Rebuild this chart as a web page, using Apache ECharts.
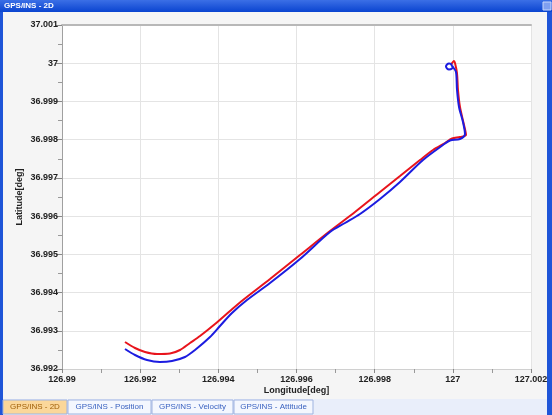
<!DOCTYPE html>
<html><head><meta charset="utf-8">
<script src="https://cdn.jsdelivr.net/npm/echarts@6/dist/echarts.min.js"></script>
<style>html,body{margin:0;padding:0;background:#f5f5f5}#c{width:552px;height:415px}</style>
</head><body><div id="c"></div>
<script>
var windowTitle = 'GPS/INS - 2D';
var tabLabels = ['GPS/INS - 2D', 'GPS/INS - Position', 'GPS/INS - Velocity', 'GPS/INS - Attitude'];
var xName = 'Longitude[deg]';
var yName = 'Latitude[deg]';
var xMin = 126.99, xMax = 127.002, xStep = 0.002;
var yMin = 36.992, yMax = 37.001, yStep = 0.001;

// GPS track (red)
var gpsLon = [126.991612,126.991868,126.992124,126.992431,126.992763,126.993019,126.993275,126.993531,126.993915,126.994298,126.994631,126.995322,126.996089,126.996857,126.997497,126.998136,126.998648,126.999160,126.999492,126.999799,126.999979,127.000183,127.000337,127.000286,127.000183,127.000132,127.000106,127.000055,127.000030,126.999953];
var gpsLat = [36.992706,36.992549,36.992445,36.992392,36.992405,36.992497,36.992680,36.992863,36.993177,36.993517,36.993805,36.994355,36.994982,36.995610,36.996107,36.996631,36.997049,36.997468,36.997730,36.997913,36.998030,36.998070,36.998122,36.998384,36.998855,36.999299,36.999744,37.000006,37.000058,36.999953];
// INS track (blue)
var insLon = [126.991612,126.991868,126.992175,126.992507,126.992814,126.993147,126.993403,126.993787,126.994042,126.994349,126.994733,126.995322,126.996089,126.996857,126.997241,126.997625,126.998136,126.998648,126.999237,126.999748,126.999927,127.000183,127.000311,127.000260,127.000158,127.000107,127.000081,127.000004,126.999979,126.999953,126.999902,126.999851,126.999825,126.999851,126.999902,126.999979,127.000004];
var insLat = [36.992523,36.992366,36.992235,36.992183,36.992209,36.992314,36.992497,36.992837,36.993125,36.993465,36.993805,36.994250,36.994878,36.995584,36.995820,36.996055,36.996448,36.996893,36.997468,36.997860,36.997978,36.998017,36.998148,36.998462,36.998855,36.999299,36.999770,36.999901,36.999927,36.999980,36.999993,36.999967,36.999914,36.999862,36.999836,36.999862,36.999927];

function pairs(a,b){var r=[];for(var i=0;i<a.length;i++)r.push([a[i],b[i]]);return r;}
function fmt(v){return String(+v.toFixed(3));}

var chart = echarts.init(document.getElementById('c'));
var lblFont = {color:'#222', fontSize:9, fontWeight:'bold', fontFamily:'Liberation Sans'};
var tabX = [3,68,152,234], tabW = [64,83,81,79];
var graphics = [
  {type:'rect', shape:{x:0,y:0,width:552,height:12}, style:{fill:new echarts.graphic.LinearGradient(0,0,0,1,[{offset:0,color:'#3b6fe6'},{offset:1,color:'#0a44d0'}])}, z:-1},
  {type:'text', x:4, y:6, style:{text:windowTitle, fill:'#ffffff', font:'bold 8px "Liberation Sans"', verticalAlign:'middle'}},
  {type:'rect', shape:{x:543,y:2,width:8,height:8}, style:{fill:'#7f9ff0', stroke:'#c8d6fa', lineWidth:1}},
  {type:'rect', shape:{x:0,y:12,width:3,height:403}, style:{fill:'#1f55d8'}},
  {type:'rect', shape:{x:547,y:12,width:5,height:403}, style:{fill:'#1f55d8'}},
  {type:'rect', shape:{x:3,y:399,width:544,height:16}, style:{fill:'#e9eefa'}}
];
for (var i=0;i<tabLabels.length;i++){
  graphics.push({type:'rect', shape:{x:tabX[i],y:400,width:tabW[i],height:14}, style:{fill:i===0?'#fbd79a':'#f4f7fe', stroke:'#9fb3e0', lineWidth:1}});
  graphics.push({type:'text', x:tabX[i]+tabW[i]/2, y:407, style:{text:tabLabels[i], fill:i===0?'#a0600a':'#3a62c0', font:'8px "Liberation Sans"', align:'center', verticalAlign:'middle'}});
}

chart.setOption({
  animation:false,
  backgroundColor:'#f5f5f5',
  graphic:graphics,
  grid:{left:62, right:21, top:25, bottom:46, show:true, backgroundColor:'#ffffff', borderWidth:0},
  xAxis:[{
    type:'value', min:xMin, max:xMax, interval:xStep,
    name:xName, nameLocation:'middle', nameGap:17, nameMoveOverlap:false,
    nameTextStyle:{color:'#222', fontSize:9, fontWeight:'bold', fontFamily:'Liberation Sans'},
    axisLine:{show:true, lineStyle:{color:'#d0d0d0'}},
    axisTick:{show:true, length:5, lineStyle:{color:'#888', type:'dashed'}},
    minorTick:{show:true, splitNumber:2, length:4, lineStyle:{color:'#999'}},
    axisLabel:Object.assign({formatter:fmt, margin:6}, lblFont),
    splitLine:{show:true, lineStyle:{color:'#e4e4e4'}}
  },{
    type:'value', position:'top', min:xMin, max:xMax, interval:xStep,
    axisLine:{show:true, lineStyle:{color:'#b8b8b8', width:2}},
    axisTick:{show:false}, axisLabel:{show:false}, splitLine:{show:false}
  }],
  yAxis:{
    type:'value', min:yMin, max:yMax, interval:yStep,
    name:yName, nameLocation:'middle', nameGap:38, nameRotate:90, nameMoveOverlap:false,
    nameTextStyle:{color:'#222', fontSize:9, fontWeight:'bold', fontFamily:'Liberation Sans'},
    axisLine:{show:true, lineStyle:{color:'#a0a0a0'}},
    axisTick:{show:true, length:6, lineStyle:{color:'#888'}},
    minorTick:{show:true, splitNumber:2, length:4, lineStyle:{color:'#999'}},
    axisLabel:Object.assign({formatter:fmt, margin:4}, lblFont),
    splitLine:{show:true, lineStyle:{color:'#e4e4e4'}}
  },
  series:[
    {type:'line', data:pairs(gpsLon,gpsLat), showSymbol:false, smooth:0.3, lineStyle:{color:'#e8141c', width:2}, z:3},
    {type:'line', data:pairs(insLon,insLat), showSymbol:false, smooth:0.3, lineStyle:{color:'#1c1ce0', width:2}, z:4}
  ]
});
</script></body></html>
